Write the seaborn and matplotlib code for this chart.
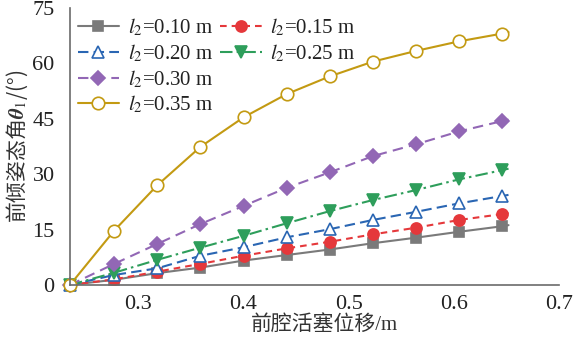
import numpy as np
import pandas as pd
import matplotlib
matplotlib.use("Agg")
import matplotlib.pyplot as plt
from matplotlib.lines import Line2D
import seaborn as sns

# Front-piston displacement (m); last point closes each curve without a marker
displacement = [0.235, 0.277, 0.318, 0.359, 0.400, 0.441, 0.482, 0.523, 0.564, 0.605, 0.646, 0.652]

# Front tilt attitude angle (deg) for each l2
theta_010 = [0, 1.4, 3.2, 4.7, 6.6, 8.1, 9.6, 11.3, 12.8, 14.4, 15.9, 16.2]
theta_015 = [0, 1.5, 3.6, 5.7, 7.9, 9.9, 11.7, 13.7, 15.5, 17.6, 19.2, 19.5]
theta_020 = [0, 2.7, 4.5, 7.9, 10.2, 12.9, 15.1, 17.6, 19.8, 22.1, 24.1, 24.4]
theta_025 = [0, 3.3, 6.8, 10.1, 13.3, 16.7, 20.0, 23.0, 25.7, 28.6, 31.1, 31.5]
theta_030 = [0, 5.7, 11.1, 16.5, 21.4, 26.3, 30.5, 34.9, 38.1, 41.6, 44.4, 44.8]
theta_035 = [0, 14.7, 27.0, 37.4, 45.4, 51.7, 56.5, 60.5, 63.4, 66.0, 68.1, 68.5]

labels = ["0.10", "0.15", "0.20", "0.25", "0.30", "0.35"]
series = [theta_010, theta_015, theta_020, theta_025, theta_030, theta_035]

x_ticks = [0.3, 0.4, 0.5, 0.6, 0.7]
y_ticks = [0, 15, 30, 45, 60, 75]

styles = {
    "0.10": dict(color="#7a7a7a", marker="s", ls="-", mfc="#7a7a7a", ms=7),
    "0.15": dict(color="#e5383b", marker="o", ls=(0, (3.2, 2.4)), mfc="#e5383b", ms=8),
    "0.20": dict(color="#2a66b3", marker="^", ls=(0, (5, 2.5)), mfc="white", ms=9),
    "0.25": dict(color="#2e9e5b", marker="v", ls=(0, (6, 2, 1.2, 2)), mfc="#2e9e5b", ms=9),
    "0.30": dict(color="#9267b5", marker="D", ls=(0, (5, 3)), mfc="#9267b5", ms=7),
    "0.35": dict(color="#c39a12", marker="o", ls="-", mfc="white", ms=9),
}

rows = []
for lab, vals in zip(labels, series):
    for xv, yv in zip(displacement, vals):
        rows.append({"l2": lab, "x": xv, "theta": yv})
df = pd.DataFrame(rows)

sns.set_theme(style="white")
plt.rcParams["font.family"] = ["Liberation Serif", "Noto Sans CJK SC", "DejaVu Sans"]
plt.rcParams["mathtext.fontset"] = "stix"

fig = plt.figure(figsize=(5.75, 3.38), dpi=100)
ax = fig.add_axes([0.1217, 0.157, 0.9722 - 0.1217, 0.976 - 0.157])

n_marked = len(displacement) - 1
for lab in labels:
    st = styles[lab]
    sub = df[df["l2"] == lab]
    sns.lineplot(data=sub, x="x", y="theta", ax=ax, color=st["color"],
                 linestyle=st["ls"], linewidth=1.5, marker=st["marker"],
                 markersize=st["ms"], markerfacecolor=st["mfc"],
                 markeredgecolor=st["color"], markeredgewidth=1.2,
                 markevery=list(range(n_marked)), legend=False, clip_on=False)

ax.set_xlim(0.235, 0.7)
ax.set_ylim(0, 75)
ax.set_xticks(x_ticks)
ax.set_xticklabels([f"{v:.1f}" for v in x_ticks])
ax.set_yticks(y_ticks)
ax.set_yticklabels([str(v) for v in y_ticks])

for side in ["top", "right"]:
    ax.spines[side].set_visible(False)
for side in ["left", "bottom"]:
    ax.spines[side].set_color("#6b6b6b")
    ax.spines[side].set_linewidth(1.2)

ax.tick_params(axis="both", direction="in", length=5, width=1.1, color="#6b6b6b",
               labelsize=16, labelcolor="#222222")
ax.tick_params(axis="x", pad=7)
ax.tick_params(axis="y", pad=11)

ax.set_xlabel("前腔活塞位移/m", fontsize=15, color="#333333",
              family=["Liberation Serif", "Noto Sans CJK SC", "DejaVu Sans"])
ax.xaxis.set_label_coords(0.52, -0.108)
ax.set_ylabel(r"前倾姿态角$\boldsymbol{\theta}_1$/(°)", fontsize=15, color="#333333",
              family=["Noto Sans CJK SC", "DejaVu Sans"], labelpad=2)

# Legend: two columns, the second holding only 0.15 and 0.25
def handle(lab):
    st = styles[lab]
    return Line2D([], [], color=st["color"], linestyle=st["ls"], linewidth=1.5,
                  marker=st["marker"], markersize=st["ms"],
                  markerfacecolor=st["mfc"], markeredgecolor=st["color"],
                  markeredgewidth=1.2)

blank = Line2D([], [], linestyle="none", marker=None)
order = ["0.10", "0.20", "0.30", "0.35", "0.15", "0.25"]
handles = [handle(l) for l in order] + [blank, blank]
texts = [rf"$l_2$=" + l + " m" for l in order] + ["", ""]
leg = ax.legend(handles, texts, ncol=2, loc="upper left",
                bbox_to_anchor=(-0.01, 1.015), frameon=False, fontsize=15,
                handlelength=2.0, handletextpad=0.4, columnspacing=0.35,
                labelspacing=0.2, borderaxespad=0.2)
for t in leg.get_texts():
    t.set_color("#222222")

fig.savefig("out.png", dpi=100)
